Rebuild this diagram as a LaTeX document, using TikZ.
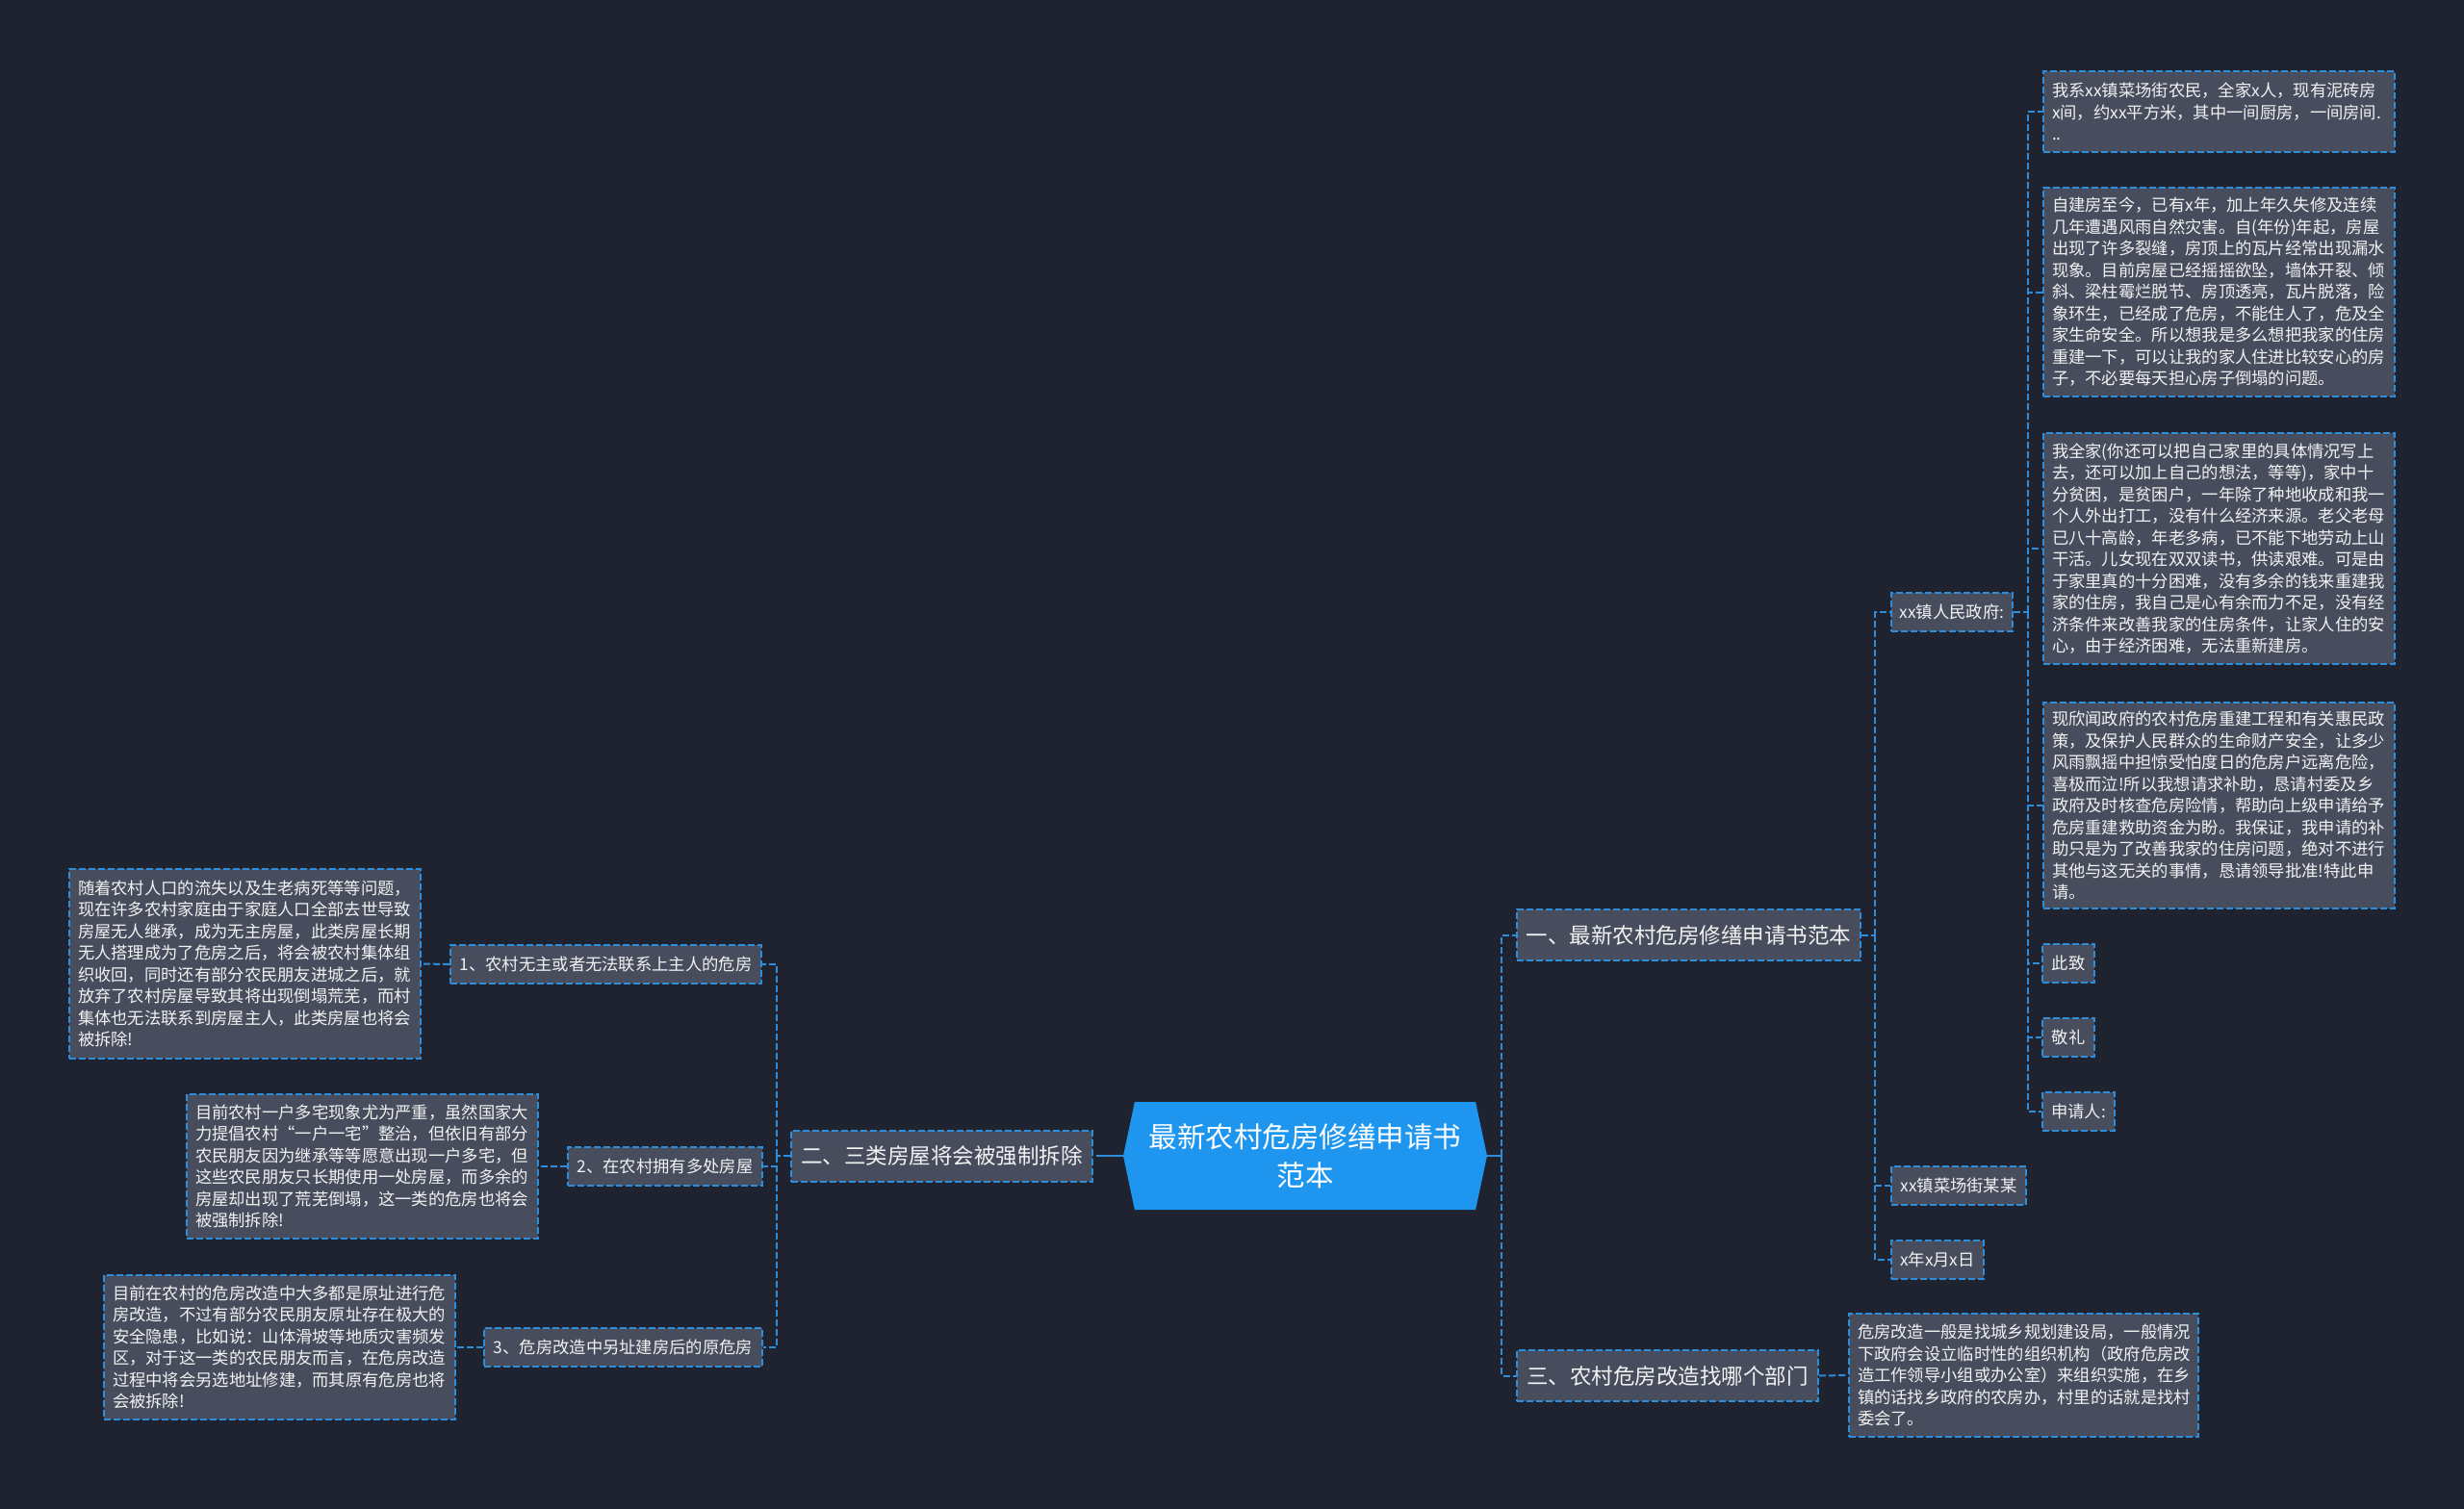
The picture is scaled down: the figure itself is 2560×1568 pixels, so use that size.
\documentclass[tikz,border=0pt]{standalone}
\usepackage{fontspec}
\setmainfont{Noto Sans CJK SC}
\usetikzlibrary{shapes.symbols}
\definecolor{bg}{HTML}{1F2330}
\definecolor{boxfill}{HTML}{474D5D}
\definecolor{bord}{HTML}{2E8DDB}
\definecolor{rootfill}{HTML}{1E96F0}
\definecolor{txt}{HTML}{F2F2F2}
\tikzset{
  dsh/.style={dash pattern=on 3.5pt off 1.5pt},
  box/.style={draw=bord, fill=boxfill, dsh, line width=1pt, text=txt, inner sep=0pt, align=center},
  leafbox/.style={box, font=\fontsize{8.65pt}{11.25pt}\selectfont, align=left, text width=173.5pt, inner xsep=4.5pt},
  smallbox/.style={box, font=\fontsize{8.65pt}{11.25pt}\selectfont, minimum height=20pt},
  bigbox/.style={box, font=\fontsize{11.25pt}{14pt}\selectfont, minimum height=26.5pt},
  rootnode/.style={signal, signal to=east and west, signal pointer angle=156, fill=rootfill, text=white, inner sep=0pt, align=center, minimum width=189pt, minimum height=56pt, font=\fontsize{14.75pt}{20pt}\selectfont},
  conn/.style={draw=bord, dsh, line width=1pt},
  solidc/.style={draw=bord, line width=1.2pt},
}
\begin{document}
\begin{tikzpicture}[x=0.5pt,y=-0.5pt]
\fill[bg] (0,0) rectangle (2560,1568);
\useasboundingbox (0,0) rectangle (2560,1568);

% root
\node[rootnode] (root) at (1356,1201) {最新农村危房修缮申请书\\范本};

% level 1
\node[bigbox, anchor=west, minimum width=178.5pt] (A) at (1575,971.5) {一、最新农村危房修缮申请书范本};
\node[bigbox, anchor=east, minimum width=156.5pt] (B) at (1136,1201) {二、三类房屋将会被强制拆除};
\node[bigbox, anchor=west, minimum width=156.5pt] (C) at (1575,1429.5) {三、农村危房改造找哪个部门};

% left branch
\node[smallbox, anchor=east, minimum width=161.5pt] (B1) at (792,1002) {1、农村无主或者无法联系上主人的危房};
\node[smallbox, anchor=east, minimum width=101pt] (B2) at (793,1212) {2、在农村拥有多处房屋};
\node[smallbox, anchor=east, minimum width=144.5pt] (B3) at (793,1400) {3、危房改造中另址建房后的原危房};

\node[leafbox, anchor=east, minimum height=98.5pt] (L1) at (438,1001.5) {随着农村人口的流失以及生老病死等等问题，\\现在许多农村家庭由于家庭人口全部去世导致\\房屋无人继承，成为无主房屋，此类房屋长期\\无人搭理成为了危房之后，将会被农村集体组\\织收回，同时还有部分农民朋友进城之后，就\\放弃了农村房屋导致其将出现倒塌荒芜，而村\\集体也无法联系到房屋主人，此类房屋也将会\\被拆除!};
\node[leafbox, anchor=east, minimum height=75pt] (L2) at (560,1212) {目前农村一户多宅现象尤为严重，虽然国家大\\力提倡农村“一户一宅”整治，但依旧有部分\\农民朋友因为继承等等愿意出现一户多宅，但\\这些农民朋友只长期使用一处房屋，而多余的\\房屋却出现了荒芜倒塌，这一类的危房也将会\\被强制拆除!};
\node[leafbox, anchor=east, minimum height=75pt] (L3) at (474,1400) {目前在农村的危房改造中大多都是原址进行危\\房改造，不过有部分农民朋友原址存在极大的\\安全隐患，比如说：山体滑坡等地质灾害频发\\区，对于这一类的农民朋友而言，在危房改造\\过程中将会另选地址修建，而其原有危房也将\\会被拆除!};

% right branch: A
\node[smallbox, anchor=west, minimum width=63pt] (A1) at (1964,636) {xx镇人民政府:};
\node[smallbox, anchor=west, minimum width=70pt] (A2) at (1964,1232) {xx镇菜场街某某};
\node[smallbox, anchor=west, minimum width=48pt] (A3) at (1964,1309) {x年x月x日};

\node[leafbox, anchor=west, minimum height=42pt] (R1) at (2122,116) {我系xx镇菜场街农民，全家x人，现有泥砖房\\x间，约xx平方米，其中一间厨房，一间房间.\\..};
\node[leafbox, anchor=west, minimum height=108.5pt] (R2) at (2122,303.5) {自建房至今，已有x年，加上年久失修及连续\\几年遭遇风雨自然灾害。自(年份)年起，房屋\\出现了许多裂缝，房顶上的瓦片经常出现漏水\\现象。目前房屋已经摇摇欲坠，墙体开裂、倾\\斜、梁柱霉烂脱节、房顶透亮，瓦片脱落，险\\象环生，已经成了危房，不能住人了，危及全\\家生命安全。所以想我是多么想把我家的住房\\重建一下，可以让我的家人住进比较安心的房\\子，不必要每天担心房子倒塌的问题。};
\node[leafbox, anchor=west, minimum height=120pt] (R3) at (2122,570) {我全家(你还可以把自己家里的具体情况写上\\去，还可以加上自己的想法，等等)，家中十\\分贫困，是贫困户，一年除了种地收成和我一\\个人外出打工，没有什么经济来源。老父老母\\已八十高龄，年老多病，已不能下地劳动上山\\干活。儿女现在双双读书，供读艰难。可是由\\于家里真的十分困难，没有多余的钱来重建我\\家的住房，我自己是心有余而力不足，没有经\\济条件来改善我家的住房条件，让家人住的安\\心，由于经济困难，无法重新建房。};
\node[leafbox, anchor=west, minimum height=107pt] (R4) at (2122,837) {现欣闻政府的农村危房重建工程和有关惠民政\\策，及保护人民群众的生命财产安全，让多少\\风雨飘摇中担惊受怕度日的危房户远离危险，\\喜极而泣!所以我想请求补助，恳请村委及乡\\政府及时核查危房险情，帮助向上级申请给予\\危房重建救助资金为盼。我保证，我申请的补\\助只是为了改善我家的住房问题，绝对不进行\\其他与这无关的事情，恳请领导批准!特此申\\请。};
\node[smallbox, anchor=west, minimum width=27pt] (S1) at (2121,1001) {此致};
\node[smallbox, anchor=west, minimum width=27pt] (S2) at (2121,1078) {敬礼};
\node[smallbox, anchor=west, minimum width=37.5pt] (S3) at (2121,1155) {申请人:};

% right branch: C
\node[leafbox, anchor=west, minimum height=64pt, text width=172.5pt] (C1) at (1920,1429) {危房改造一般是找城乡规划建设局，一般情况\\下政府会设立临时性的组织机构（政府危房改\\造工作领导小组或办公室）来组织实施，在乡\\镇的话找乡政府的农房办，村里的话就是找村\\委会了。};

% connectors
\coordinate (rj) at (1560,1201);
\draw[solidc] (root.east) -- (rj);
\draw[conn] (rj) |- (A.west);
\draw[conn] (rj) |- (C.west);

\coordinate (lj) at (1146,1201);
\draw[solidc] (root.west) -- (lj);
\draw[conn] (lj) -- (B.east);

\coordinate (bj) at (807,1201);
\draw[conn] (B.west) -- (bj);
\draw[conn] (bj) |- (B1.east);
\draw[conn] (bj) |- (B2.east);
\draw[conn] (bj) |- (B3.east);
\draw[conn] (B1.west) -- (L1.east);
\draw[conn] (B2.west) -- (L2.east);
\draw[conn] (B3.west) -- (L3.east);

\coordinate (aj) at (1948,971.5);
\draw[conn] (A.east) -- (aj);
\draw[conn] (aj) |- (A1.west);
\draw[conn] (aj) |- (A2.west);
\draw[conn] (aj) |- (A3.west);

\coordinate (a1j) at (2107,636);
\draw[conn] (A1.east) -- (a1j);
\draw[conn] (a1j) |- (R1.west);
\draw[conn] (a1j) |- (R2.west);
\draw[conn] (a1j) |- (R3.west);
\draw[conn] (a1j) |- (R4.west);
\draw[conn] (a1j) |- (S1.west);
\draw[conn] (a1j) |- (S2.west);
\draw[conn] (a1j) |- (S3.west);

\draw[conn] (C.east) -- (C1.west);
\end{tikzpicture}
\end{document}
